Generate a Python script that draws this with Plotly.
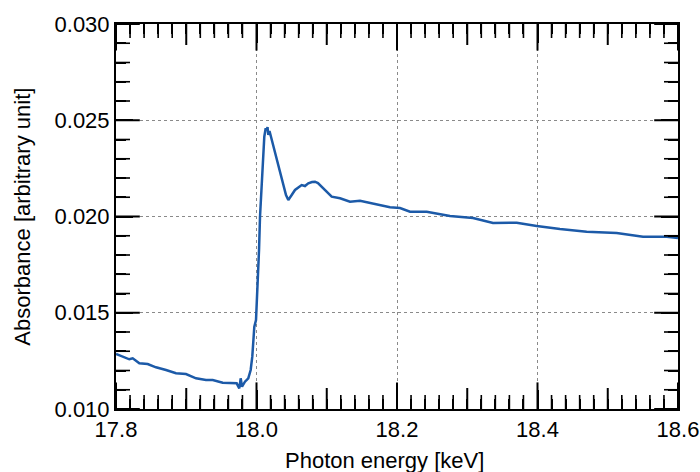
import plotly.graph_objects as go

# Photon energy (keV) and absorbance
energy = [17.8000, 17.8095, 17.8189, 17.8238, 17.8332, 17.8451, 17.8569, 17.8712,
          17.8854, 17.8996, 17.9139, 17.9281, 17.9377, 17.9519, 17.9661, 17.9718,
          17.9755, 17.9775, 17.9794, 17.9836, 17.9883, 17.9917, 17.9940, 17.9954,
          17.9969, 17.9993, 18.0014, 18.0036, 18.0050, 18.0074, 18.0097, 18.0111,
          18.0131, 18.0145, 18.0157, 18.0168, 18.0185, 18.0206, 18.0239, 18.0288,
          18.0335, 18.0381, 18.0420, 18.0453, 18.0477, 18.0501, 18.0548, 18.0591,
          18.0643, 18.0690, 18.0737, 18.0790, 18.0833, 18.0875, 18.0904, 18.0975,
          18.1070, 18.1189, 18.1331, 18.1473, 18.1616, 18.1758, 18.1900, 18.2043,
          18.2185, 18.2423, 18.2754, 18.3082, 18.3367, 18.3704, 18.3989, 18.4320,
          18.4700, 18.5127, 18.5359, 18.5502, 18.5839, 18.6000]
absorbance = [0.012857, 0.012717, 0.012582, 0.012634, 0.012374, 0.012338, 0.012166, 0.012026,
              0.011855, 0.011818, 0.011595, 0.011506, 0.011506, 0.011366, 0.011335, 0.011335,
              0.011075, 0.011595, 0.011158, 0.011418, 0.011595, 0.012026, 0.012717, 0.013584,
              0.014275, 0.014623, 0.016182, 0.018260, 0.019990, 0.021548, 0.023283, 0.024145,
              0.024582, 0.024494, 0.024649, 0.024234, 0.024442, 0.024145, 0.023626, 0.022935,
              0.022260, 0.021548, 0.021117, 0.020857, 0.021013, 0.021117, 0.021377, 0.021481,
              0.021636, 0.021584, 0.021725, 0.021792, 0.021808, 0.021740, 0.021636, 0.021377,
              0.021029, 0.020945, 0.020769, 0.020821, 0.020717, 0.020597, 0.020478, 0.020442,
              0.020249, 0.020249, 0.020026, 0.019922, 0.019662, 0.019678, 0.019506, 0.019351,
              0.019210, 0.019143, 0.019039, 0.018951, 0.018951, 0.018883]

x_range = [17.8, 18.6]
y_range = [0.010, 0.030]
x_major_step = 0.2
x_mid_step = 0.1
x_minor_step = 0.02
y_major_step = 0.005
y_minor_step = 0.001
x_title = "Photon energy [keV]"
y_title = "Absorbance [arbitrary unit]"

FONT = "Liberation Sans, Arial, Helvetica, sans-serif"

fig = go.Figure()
fig.add_trace(go.Scatter(x=energy, y=absorbance, mode="lines",
                         line=dict(color="#1c5aa8", width=2.5),
                         showlegend=False, hoverinfo="skip"))

# Inward tick marks along all four frame edges, positioned from the tick steps.
# Each tick is a line marker centred on the frame edge; the half outside the
# plot area is clipped away, so only the inward half (the tick length) shows.
n_x = int(round((x_range[1] - x_range[0]) / x_minor_step))
n_y = int(round((y_range[1] - y_range[0]) / y_minor_step))
per_major_x = int(round(x_major_step / x_minor_step))
per_mid_x = int(round(x_mid_step / x_minor_step))
per_major_y = int(round(y_major_step / y_minor_step))

x_groups = {19: [], 15: [], 10: []}
for i in range(n_x + 1):
    pos = x_range[0] + i * x_minor_step
    if i % per_major_x == 0:
        x_groups[19].append(pos)
    elif i % per_mid_x == 0:
        x_groups[15].append(pos)
    else:
        x_groups[10].append(pos)

y_groups = {17: [], 10: []}
for i in range(n_y + 1):
    pos = y_range[0] + i * y_minor_step
    if i % per_major_y == 0:
        y_groups[17].append(pos)
    else:
        y_groups[10].append(pos)

for length, vals in x_groups.items():
    for edge in y_range:
        fig.add_trace(go.Scatter(
            x=vals, y=[edge] * len(vals), mode="markers", cliponaxis=True,
            marker=dict(symbol="line-ns", size=2 * length,
                        line=dict(width=2 if length > 10 else 1.6, color="black")),
            showlegend=False, hoverinfo="skip"))
for length, vals in y_groups.items():
    for edge in x_range:
        fig.add_trace(go.Scatter(
            x=[edge] * len(vals), y=vals, mode="markers", cliponaxis=True,
            marker=dict(symbol="line-ew", size=2 * length,
                        line=dict(width=2 if length > 10 else 1.6, color="black")),
            showlegend=False, hoverinfo="skip"))

axis_common = dict(showline=True, linewidth=2, linecolor="black",
                   ticks="inside", tickcolor="black", tickwidth=2,
                   mirror="ticks", showgrid=True, gridcolor="#8a8a8a",
                   griddash="3px,3px", gridwidth=1, zeroline=False,
                   automargin=False, tickmode="linear",
                   tickfont=dict(family=FONT, size=22, color="black"))

fig.update_layout(
    width=700, height=472,
    margin=dict(l=116, r=22, t=24, b=63, autoexpand=False),
    paper_bgcolor="white", plot_bgcolor="white",
    font=dict(family=FONT, size=22, color="black"),
    xaxis=dict(range=x_range, tick0=x_range[0], dtick=x_major_step, tickformat=".1f",
               ticklen=19,
               minor=dict(dtick=x_minor_step, tick0=x_range[0], ticks="inside", ticklen=10,
                          tickwidth=1.5, tickcolor="black", showgrid=False),
               **axis_common),
    yaxis=dict(range=y_range, tick0=y_range[0], dtick=y_major_step, tickformat=".3f",
               ticklen=17,
               minor=dict(dtick=y_minor_step, tick0=y_range[0], ticks="inside", ticklen=10,
                          tickwidth=1.5, tickcolor="black", showgrid=False),
               **axis_common),
    annotations=[
        dict(text=x_title, xref="paper", yref="paper", x=0.4786, y=-0.133,
             xanchor="center", yanchor="middle", showarrow=False,
             font=dict(family=FONT, size=22, color="black")),
        dict(text=y_title, xref="paper", yref="paper", x=-0.167, y=0.5,
             xanchor="center", yanchor="middle", textangle=-90, showarrow=False,
             font=dict(family=FONT, size=22, color="black")),
    ],
)

fig.write_html("out.html")
